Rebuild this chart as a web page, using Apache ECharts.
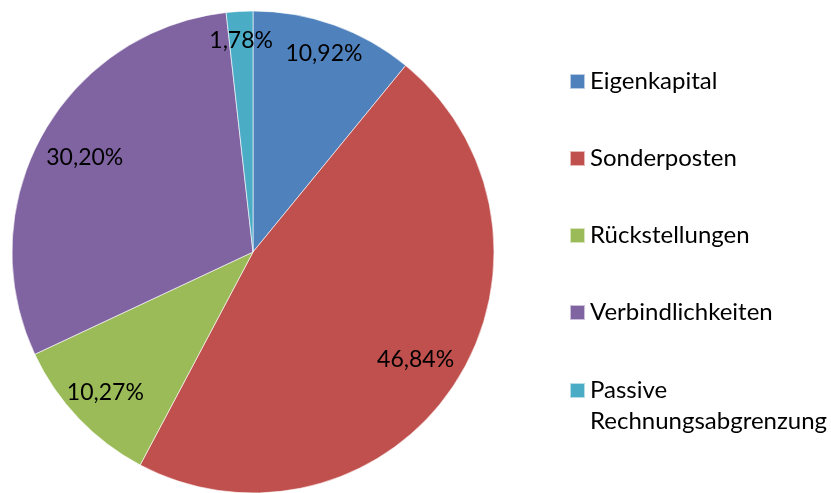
<!DOCTYPE html>
<html>
<head>
<meta charset="utf-8">
<script src="https://cdn.jsdelivr.net/npm/echarts@6/dist/echarts.min.js"></script>
<style>
	html, body { margin: 0; padding: 0; background: #fff; }
	#chart { width: 831px; height: 493px; }
</style>
</head>
<body>
<div id="chart"></div>
<script>
// Kategorien und Anteile (in %)
var categories = ['Eigenkapital', 'Sonderposten', 'Rückstellungen', 'Verbindlichkeiten', 'Passive Rechnungsabgrenzung'];
var shares = [10.92, 46.84, 10.27, 30.20, 1.78];
var colors = ['#4F81BD', '#C0504D', '#9BBB59', '#8064A2', '#4BACC6'];

// wie weit die Beschriftung vom Mittelpunkt sitzt (Anteil vom Radius)
var labelRadius = [0.875, 0.81, 0.846, 0.80, 0.88];

var cx = 253, cy = 252, r = 241;
var fontFamily = 'Lato, "Open Sans", sans-serif';

var pieData = categories.map(function (name, i) {
	return { name: name, value: shares[i], itemStyle: { color: colors[i] } };
});

// gemeinsame Legenden-Einstellungen
function legendBase(names, top) {
	return {
		orient: 'vertical',
		left: 569,
		top: top,
		height: 700,
		padding: 0,
		itemWidth: 15,
		itemHeight: 15,
		itemGap: 46,
		icon: 'rect',
		selectedMode: false,
		data: names,
		textStyle: {
			fontFamily: fontFamily,
			fontSize: 24,
			color: '#000',
			lineHeight: 31
		},
		// langer Name: zweizeilig, erste Zeile auf Höhe des Symbols
		formatter: function (name) {
			if (name.indexOf(' ') > 0) {
				return '\n' + name.replace(' ', '\n');
			}
			return name;
		}
	};
}

var myChart = echarts.init(document.getElementById('chart'));
myChart.setOption({
	animation: false,
	legend: [
		legendBase(categories.slice(0, 4), 66),
		legendBase(categories.slice(4), 344)
	],
	series: [
		{
			type: 'pie',
			center: [cx, cy],
			radius: r,
			startAngle: 90,
			clockwise: true,
			silent: true,
			itemStyle: {
				borderColor: 'rgba(255,255,255,0.6)',
				borderWidth: 1
			},
			label: {
				show: true,
				position: 'inside',
				fontFamily: fontFamily,
				fontSize: 23,
				color: '#000',
				formatter: function (p) {
					return p.value.toFixed(2).replace('.', ',') + '%';
				}
			},
			labelLine: { show: false },
			labelLayout: function (params) {
				var rect = params.labelRect;
				var lx = rect.x + rect.width / 2;
				var ly = rect.y + rect.height / 2;
				var k = labelRadius[params.dataIndex] * r / Math.sqrt((lx - cx) * (lx - cx) + (ly - cy) * (ly - cy));
				return { x: cx + (lx - cx) * k, y: cy + (ly - cy) * k };
			},
			data: pieData
		}
	]
});
</script>
</body>
</html>
